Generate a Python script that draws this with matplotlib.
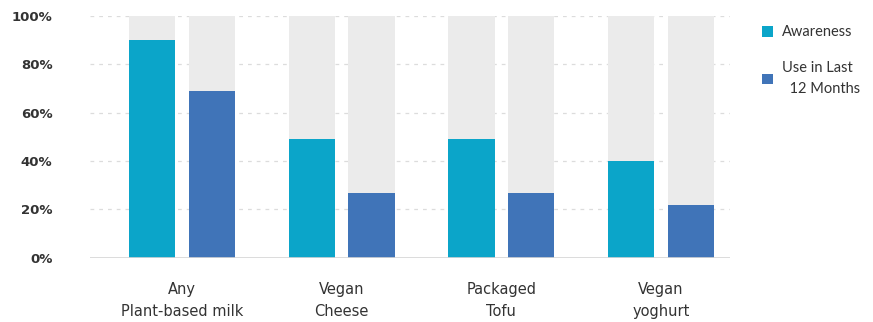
import numpy as np
import matplotlib.pyplot as plt

# Data
categories = ['Any\nPlant-based milk', 'Vegan\nCheese', 'Packaged\nTofu', 'Vegan\nyoghurt']
awareness = [90, 49, 49, 40]
use_last_12 = [69, 27, 27, 22]
y_ticks = [0, 20, 40, 60, 80, 100]

aware_color = '#0ba5c9'
use_color = '#4074b8'
bg_color = '#ebebeb'

bar_width = 0.29
offset = 0.187
x = np.arange(len(categories))

fig = plt.figure(figsize=(8.73, 3.22), dpi=100)
ax = fig.add_axes([0.103, 0.199, 0.733, 0.752])
plt.rcParams['font.family'] = ['Lato', 'DejaVu Sans']

# Grey 100% backgrounds
ax.bar(x - offset, [100] * len(x), bar_width, color=bg_color, zorder=2)
ax.bar(x + offset, [100] * len(x), bar_width, color=bg_color, zorder=2)

# Values
ax.bar(x - offset, awareness, bar_width, color=aware_color, label='Awareness', zorder=3)
ax.bar(x + offset, use_last_12, bar_width, color=use_color, label='Use in Last\n  12 Months', zorder=3)

# Dashed gridlines
for yv in y_ticks[1:]:
    ax.axhline(yv, color='#dcdcdc', linestyle=(0, (3, 4)), linewidth=0.9, zorder=1)
ax.axhline(0, color='#d6d6d6', linewidth=1.2, zorder=4)

ax.set_ylim(0, 100)
ax.set_xlim(-0.575, 3.43)
ax.set_yticks(y_ticks)
ax.set_yticklabels([f'{v}%' for v in y_ticks], fontsize=9.5, fontweight='bold', color='#333333')
ax.set_xticks(x)
ax.set_xticklabels(categories, fontsize=10.5, color='#333333', linespacing=1.6)
ax.tick_params(axis='both', length=0)
ax.tick_params(axis='y', pad=27)
ax.tick_params(axis='x', pad=17)

for s in ax.spines.values():
    s.set_visible(False)

leg = ax.legend(loc='upper left', bbox_to_anchor=(1.03, 1.015), frameon=False,
                fontsize=10.5, handlelength=0.75, handleheight=0.75, handletextpad=0.6,
                labelspacing=1.5)
for t in leg.get_texts():
    t.set_color('#333333')
    t.set_linespacing(1.65)

plt.savefig('out.png', dpi=100)
